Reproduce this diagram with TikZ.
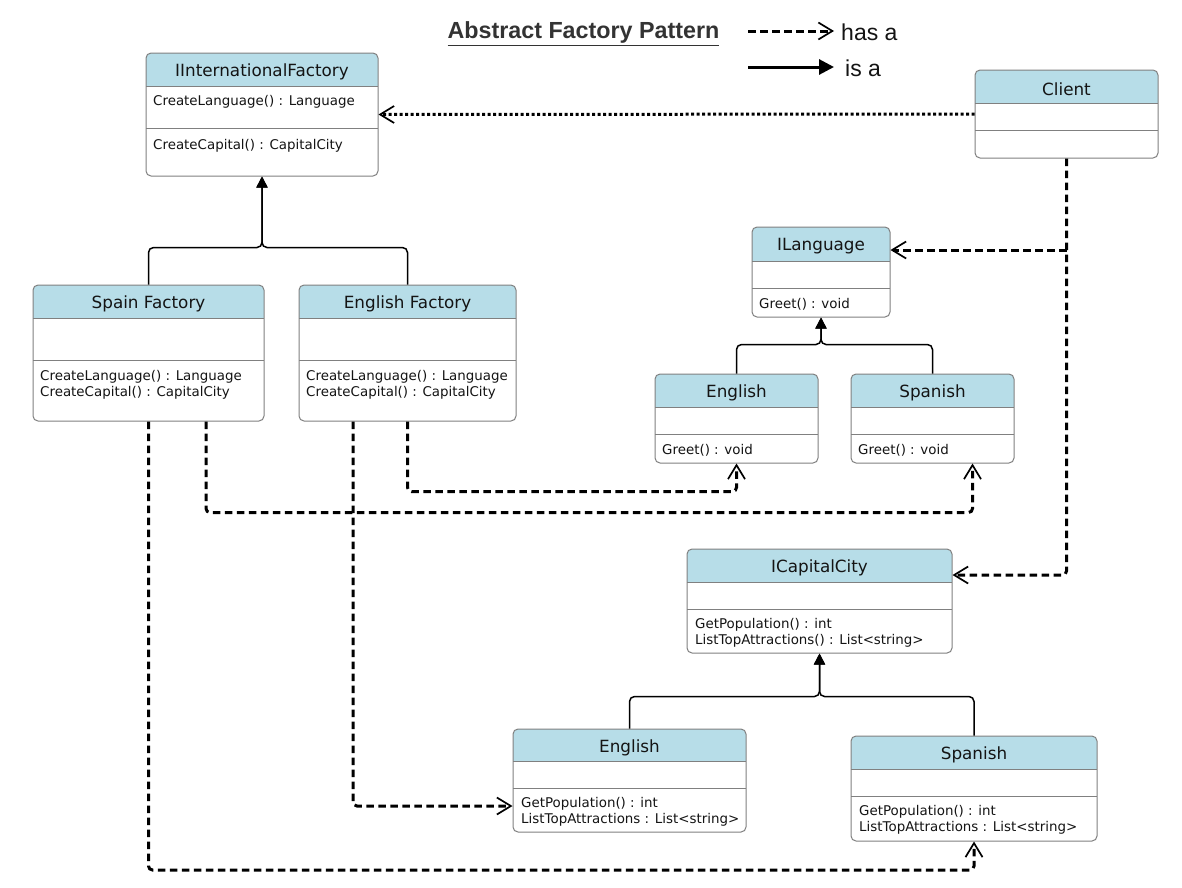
\documentclass[tikz,border=0pt]{standalone}
\usepackage{fontspec}
\setmainfont{DejaVu Sans}
\newfontfamily\arialfont{Liberation Sans}
\usetikzlibrary{arrows.meta}
\definecolor{hdrblue}{RGB}{183,221,232}
\definecolor{framegray}{RGB}{128,128,128}
\definecolor{txt}{RGB}{20,20,20}
\tikzset{
  hdrfill/.style={fill=hdrblue},
  frame/.style={draw=framegray, line width=1pt, rounded corners=5pt, inner sep=0pt, rectangle},
  divider/.style={draw=framegray, line width=1pt},
  nametext/.style={font=\fontsize{16.8}{20}\selectfont, text=txt, inner sep=0pt},
  methtext/.style={font=\fontsize{13.4}{16}\selectfont, text=txt, inner sep=0pt, anchor=west, align=left},
  has/.style={line width=3pt, dash pattern=on 7.5pt off 4.5pt, rounded corners=4pt,
    -{Straight Barb[length=14pt,width=17pt,line width=1.7pt]}},
  hasdot/.style={line width=3pt, dash pattern=on 3pt off 2.5pt,
    -{Straight Barb[length=14pt,width=17pt,line width=1.7pt]}},
  isa/.style={line width=1.5pt, rounded corners=5pt, -{Triangle[length=11pt,width=11pt]}},
  isabig/.style={line width=3pt, -{Triangle[length=15pt,width=15pt]}},
  legendtext/.style={font=\arialfont\fontsize{23}{27}\selectfont, text=txt, inner sep=0pt, anchor=west},
}
\newcommand\umlclass[8]{%
  \begin{scope}
    \clip[rounded corners=5pt] (#2,#3) rectangle (#4,#5);
    \fill[hdrfill] (#2,#3) rectangle (#4,#6);
  \end{scope}
  \node[frame, minimum width={(#4-#2)*1pt}, minimum height={(#5-#3)*1pt}] (#1) at ({(#2+#4)/2},{(#3+#5)/2}) {};
  \draw[divider] (#2,#6) -- (#4,#6);
  \draw[divider] (#2,#7) -- (#4,#7);
  \node[nametext] (#1-name) at ({(#2+#4)/2},{(#3+#6)/2+2.5}) {#8};
}
\begin{document}
\begin{tikzpicture}[x=1pt,y=-1pt]
\useasboundingbox (0,0) rectangle (1182,887);
\fill[white] (0,0) rectangle (1182,887);

% title and legend
\node[font=\arialfont\bfseries\fontsize{23.3}{27}\selectfont, text={rgb,255:red,51;green,51;blue,51}, inner sep=0pt] (title) at (583.5,33.5) {\underline{Abstract Factory Pattern}};
\coordinate (lhas1) at (748,31);
\coordinate (lhas2) at (834,31);
\coordinate (lisa1) at (748,67);
\coordinate (lisa2) at (834,67);
\draw[has] (lhas1) -- (lhas2);
\draw[isabig] (lisa1) -- (lisa2);
\node[legendtext] (hasatext) at (841,32) {has a};
\node[legendtext] (isatext) at (845,68) {is a};

% classes
\umlclass{iif}{146}{53}{378}{176}{86}{128}{IInternationalFactory}
\node[methtext] (iif-m1) at (153,102) {CreateLanguage() : Language};
\node[methtext] (iif-m2) at (153,146) {CreateCapital() : CapitalCity};

\umlclass{client}{975}{70}{1158}{158}{103}{130}{Client}

\umlclass{spainf}{33}{285}{264}{421}{318}{360}{Spain Factory}
\node[methtext] (spainf-m) at (40,385) {CreateLanguage() : Language\\CreateCapital() : CapitalCity};

\umlclass{engf}{299}{285}{516}{421}{318}{360}{English Factory}
\node[methtext] (engf-m) at (306,385) {CreateLanguage() : Language\\CreateCapital() : CapitalCity};

\umlclass{ilang}{752}{227}{890}{317}{261}{288}{ILanguage}
\node[methtext] (ilang-m) at (759,304) {Greet() : void};

\umlclass{enlang}{655}{374}{818}{463}{407}{434}{English}
\node[methtext] (enlang-m) at (662,450) {Greet() : void};

\umlclass{splang}{851}{374}{1014}{463}{407}{434}{Spanish}
\node[methtext] (splang-m) at (858,450) {Greet() : void};

\umlclass{icap}{687}{549}{952}{653}{582}{609}{ICapitalCity}
\node[methtext] (icap-m) at (695,633) {GetPopulation() : int\\ListTopAttractions() : List<string>};

\umlclass{encity}{513}{729}{746}{832}{761}{788}{English}
\node[methtext] (encity-m) at (521,812) {GetPopulation() : int\\ListTopAttractions : List<string>};

\umlclass{spcity}{851}{736}{1097}{841}{769}{796}{Spanish}
\node[methtext] (spcity-m) at (859,820) {GetPopulation() : int\\ListTopAttractions : List<string>};

% inheritance
\draw[isa] (spainf.north) -- ++(0,-37) -| (iif.south);
\draw[isa] (engf.north) -- ++(0,-37) -| (iif.south);
\draw[isa] (enlang.north) -- ++(0,-29) -| (ilang.south);
\draw[isa] (splang.north) -- ++(0,-29) -| (ilang.south);
\draw[isa] (encity.north) -- ++(0,-32) -| (icap.south);
\draw[isa] (spcity.north) -- ++(0,-39) -| (icap.south);

% has-a
\draw[hasdot] (client.west) -- (iif.east);
\draw[has] (client.south) |- ([yshift=26pt]icap.east);
\draw[has] (client.south |- {0,250}) -- ([yshift=22pt]ilang.east);
\draw[has] (spainf.south) -- (spainf.south |- {0,870}) -| (spcity.south);
\draw[has] ([xshift=57.5pt]spainf.south) -- ++(0,91) -| ([xshift=40pt]splang.south);
\draw[has] (engf.south) -- ++(0,70) -| (enlang.south);
\draw[has] ([xshift=-54.5pt]engf.south) |- ([yshift=-25.5pt]encity.west);
\end{tikzpicture}
\end{document}
